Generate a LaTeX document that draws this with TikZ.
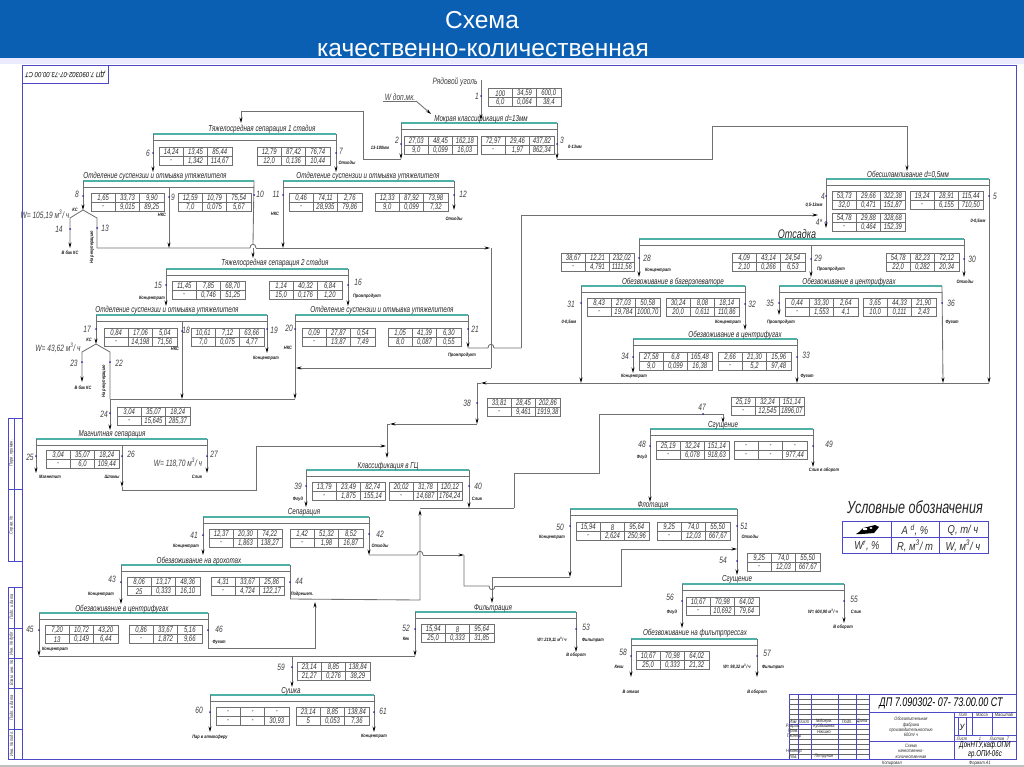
\documentclass[tikz,border=0pt]{standalone}
\usepackage{fontspec}
\setmainfont{Liberation Sans}
\newfontfamily\gost[FakeStretch=0.82]{Liberation Sans}
\newfontfamily\gostn[FakeStretch=0.72]{Liberation Sans}
\usetikzlibrary{arrows.meta}
\definecolor{bannerblue}{HTML}{0B5FB3}
\definecolor{frameblue}{HTML}{4C48C8}
\definecolor{linegray}{HTML}{707070}
\definecolor{barteal}{HTML}{4FB0A8}
\definecolor{dotblue}{HTML}{2A2AA8}
\newcount\autonode
\newcommand{\nextnode}{\global\advance\autonode by 1 }
\tikzset{
 ln/.style={draw=linegray,line width=.85pt},
 ar/.style={ln,-{Stealth[length=5.5pt,width=3pt,color=black]}},
 tbar/.style={draw=barteal,line width=1.2pt},
 gbar/.style={draw=linegray,line width=.65pt},
 tbox/.style={draw=linegray,line width=.5pt,anchor=north west,inner sep=0,outer sep=0,minimum width=73pt,minimum height=18pt},
 tgrid/.style={draw=linegray,line width=.5pt},
 num/.style={font=\gostn\itshape\fontsize{8.2}{9}\selectfont,inner sep=0,text=black!80},
 ttl/.style={font=\gostn\itshape\fontsize{8.7}{9}\selectfont,inner sep=0,text=black!85},
 lab/.style={font=\gostn\itshape\fontsize{9.2}{10}\selectfont,inner sep=0,text=black!75},
 sml/.style={font=\gost\bfseries\itshape\fontsize{4.8}{5}\selectfont,inner sep=0,text=black!90},
 frm/.style={draw=frameblue,line width=.8pt},
 stamp/.style={font=\gost\itshape\fontsize{4.8}{5.4}\selectfont,inner sep=0,text=black!85,align=center},
 side/.style={font=\gost\itshape\fontsize{4.8}{5}\selectfont,inner sep=0,rotate=90,text=black!80},
}
\newcommand{\tb}[9]{%
 \node[tbox] (#1) at (#2,#3) {};
 \draw[tgrid] (#1.west) -- (#1.east);
 \draw[tgrid] ({#2+24.3},#3) -- ({#2+24.3},{#3+18});
 \draw[tgrid] ({#2+48.7},#3) -- ({#2+48.7},{#3+18});
 \node[num] (#1a) at ({#2+12.2},{#3+5.2}) {#4};
 \node[num] (#1b) at ({#2+36.5},{#3+5.2}) {#5};
 \node[num] (#1c) at ({#2+60.8},{#3+5.2}) {#6};
 \node[num] (#1d) at ({#2+12.2},{#3+14.2}) {#7};
 \node[num] (#1e) at ({#2+36.5},{#3+14.2}) {#8};
 \node[num] (#1f) at ({#2+60.8},{#3+14.2}) {#9};
}
\newcommand{\blk}[7]{%
 \coordinate (#1l) at (#2,#4);
 \coordinate (#1r) at (#3,#4);
 \draw[gbar] (#2,{#4+6}) -- (#3,{#4+6});
 \draw[tbar] (#1l) -- (#1r);
 \node[ttl] (#1t) at (#6,#7) {#5};
}
\newcommand{\lb}[3]{\nextnode\node[lab] (lb\the\autonode) at (#1,#2) {#3};}
\newcommand{\sm}[3]{\nextnode\node[sml] (sm\the\autonode) at (#1,#2) {#3};}
\newcommand{\dt}[2]{\fill[dotblue] (#1,#2) circle (1);}
\newcommand{\cp}[3]{\coordinate (#1) at (#2,#3);}
\begin{document}
\begin{tikzpicture}[x=1pt,y=-1pt]
\useasboundingbox (0,0) rectangle (1024,767);
\fill[white] (0,0) rectangle (1024,767);
\fill[bannerblue] (0,0) rectangle (1024,58);
\fill[blue!8] (0,58) rectangle (1024,64);
\fill[black!25] (0,765) rectangle (1024,767);
\node[text=white,font=\fontsize{24.5}{26}\selectfont,inner sep=0] (bt1) at (482,20) {Схема};
\node[text=white,font=\fontsize{24.5}{26}\selectfont,inner sep=0] (bt2) at (483,50) {качественно-количественная};
% frame
\draw[frm] (22.5,65) rectangle (1016,759);
\draw[frm] (22.5,65) rectangle (108,83);
\node[font=\gost\itshape\fontsize{7.4}{8}\selectfont,rotate=180,inner sep=0] (stamp0) at (65,74.5) {ДП 7.090302-07-73.00.00 СТ};
\draw[frm] (8,418) rectangle (22.5,561);
\draw[frm] (8,489) -- (22.5,489);
\draw[frm] (14,418) -- (14,561);
\draw[frm] (8,587) rectangle (22.5,759);
\foreach \yy in {628,658,688,729} \draw[frm] (8,\yy) -- (22.5,\yy);
\draw[frm] (14,587) -- (14,759);
\node[side] (s1) at (11.5,453) {Перв. примен.};
\node[side] (s2) at (11.5,525) {Справ. №};
\node[side] (s3) at (11.5,607) {Подп. и дата};
\node[side] (s4) at (11.5,643) {Инв. № дубл.};
\node[side] (s5) at (11.5,673) {Взам. инв. №};
\node[side] (s6) at (11.5,708) {Подп. и дата};
\node[side] (s7) at (11.5,744) {Инв. № подл.};
% blocks
\blk{mk}{401}{557}{123}{Мокрая классификация d=13мм}{481}{119}
\blk{tsa}{153}{336}{134}{Тяжелосредная сепарация 1 стадия}{262}{129}
\blk{oda}{83}{254}{181}{Отделение суспензии и отмывка утяжелителя}{155}{176}
\blk{odb}{283}{454}{181}{Отделение суспензии и отмывка утяжелителя}{368}{176}
\blk{tsb}{166}{348}{269}{Тяжелосредная сепарация 2 стадия}{275}{263}
\blk{odc}{96}{267}{315}{Отделение суспензии и отмывка утяжелителя}{167}{310}
\blk{odd}{295}{468}{315}{Отделение суспензии и отмывка утяжелителя}{382}{310}
\blk{mg}{36}{207}{439}{Магнитная сепарация}{112}{434}
\blk{ob}{826}{989}{179}{Обесшламливание d=0,5мм}{908}{175}
\blk{ot}{639}{964}{239}{\fontsize{12.5}{13}\selectfont Отсадка}{797}{234}
\blk{bag}{581}{745}{286}{Обезвоживание в багерэлеваторе}{673}{282}
\blk{cf}{779}{942}{286}{Обезвоживание в центрифугах}{849}{282}
\blk{cg}{633}{797}{339}{Обезвоживание в центрифугах}{735}{335}
\blk{sga}{650}{813}{429}{Сгущение}{723}{425}
\blk{gc}{306}{469}{470}{Классификация в ГЦ}{388}{466}
\blk{sp}{203}{369}{517}{Сепарация}{304}{512}
\blk{gr}{121}{290}{565}{Обезвоживание на грохотах}{199}{561}
\blk{ch}{39}{208}{613}{Обезвоживание в центрифугах}{122}{609}
\blk{fl}{570}{737}{509}{Флотация}{653}{505}
\blk{sgb}{682}{844}{584}{Сгущение}{737}{579}
\blk{fp}{631}{757}{639}{Обезвоживание на фильтрпрессах}{695}{633}
\blk{fi}{415}{576}{612}{Фильтрация}{493}{608}
\blk{su}{210}{374}{695}{Сушка}{291}{691}
% connectors: top
\cp{raw}{481}{80}\cp{rawe}{481}{120}
\draw[ar] (raw) -- (rawe);
\cp{wu}{383}{101}\cp{wm}{416}{101}\cp{we}{431}{114}
\draw[ln,line width=.5pt] (wu) -- (wm);
\draw[ar] (wm) -- (we);
\cp{mka}{401}{159}\cp{mkb}{363}{159}\cp{mkc}{363}{111}\cp{mkd}{241}{111}\cp{mke}{241}{123}
\draw[ar] (mkl) -- (mka);
\draw[ar] (mka) -- (mkb) -- (mkc) -- (mkd) -- (mke);
\cp{mra}{557}{159}\cp{mrb}{712}{159}\cp{mrc}{712}{126}\cp{mrd}{907}{126}\cp{mre}{907}{171}
\draw[ar] (mkr) -- (mra);
\draw[ar] (mra) -- (mrb) -- (mrc) -- (mrd) -- (mre);
% ts1
\cp{a1}{153}{172}\cp{a2}{336}{172}
\draw[ar] (tsal) -- (a1);\draw[ar] (tsar) -- (a2);
% od1
\cp{b0}{83}{210}\cp{b1}{70}{218}\cp{b2}{70}{248}\cp{b3}{97}{218}\cp{b4}{97}{248}
\draw[ar] (odal) -- (b0);
\draw[ar] (b0) -- (b1) -- (b2);
\draw[ln] (b0) -- (b3) -- (b4);
\cp{b5}{250}{248}\cp{b6}{256}{248}\cp{b7}{490}{248}\cp{b8}{491}{368}\cp{b9}{296}{368}\cp{b10}{491}{248}
\draw[ln] (b4) -- (b5) .. controls +(0,-5) and +(0,-5) .. (b6);
\draw[ar] (b6) -- (b7);
\cp{c0}{169}{187}\cp{c1}{169}{248}\draw[ar] (c0) -- (c1);
\cp{c2}{253}{244}\draw[ln] (odar) -- (c2);
\cp{c3}{253}{248}\cp{c4}{253}{258}\draw[ar] (c3) -- (c4);
\cp{c5}{283}{248}\draw[ar] (odbl) -- (c5);
\cp{c6}{454}{210}\draw[ar] (odbr) -- (c6);
\draw[ln] (b10) -- (b8);
\draw[ar] (b8) -- (b9);
% ts2
\cp{d1}{166}{306}\cp{d2}{348}{306}
\draw[ar] (tsbl) -- (d1);\draw[ar] (tsbr) -- (d2);
% od3
\cp{e0}{96}{344}\cp{e1}{82}{352}\cp{e2}{82}{382}\cp{e3}{110}{352}\cp{e4}{110}{399}\cp{e5}{110}{430}
\draw[ar] (odcl) -- (e0);
\draw[ar] (e0) -- (e1) -- (e2);
\draw[ln] (e0) -- (e3) -- (e4);
\draw[ar] (e4) -- (e5);
\cp{e6}{295}{399}\draw[ln] (e4) -- (e6);
\draw[ar] (oddl) -- (e6);
\cp{e7}{182}{321}\cp{e8}{182}{399}\draw[ar] (e7) -- (e8);
\cp{e9}{267}{353}\draw[ar] (odcr) -- (e9);
% od4 -> otsadka
\cp{f1}{468}{348}\cp{f2}{488}{348}\cp{f3}{494}{348}\cp{f4}{521}{348}\cp{f5}{521}{215}\cp{f6}{818}{215}
\draw[ar] (oddr) -- (f1);
\draw[ln] (f1) -- (f2) .. controls +(0,-5) and +(0,-5) .. (f3) -- (f4);
\draw[ar] (f4) -- (f5) -- (f6);
% magnetic
\cp{g1}{36}{473}\cp{g2}{207}{473}\cp{g3}{122}{445}\cp{g4}{122}{487}\cp{g5}{122}{490}\cp{g6}{256}{490}\cp{g7}{256}{446}\cp{g8}{386}{446}
\draw[ar] (mgl) -- (g1);\draw[ar] (mgr) -- (g2);\draw[ar] (g3) -- (g4);
\draw[ln] (g4) -- (g5);
\draw[ar] (g5) -- (g6) -- (g7) -- (g8);
% ob
\cp{h1}{826}{228}\cp{h2}{989}{383}
\draw[ar] (obl) -- (h1);\draw[ar] (obr) -- (h2);
% otsadka
\cp{i1}{639}{277}\cp{i2}{964}{277}\cp{i3}{811}{245}\cp{i4}{811}{277}
\draw[ar] (otl) -- (i1);\draw[ar] (otr) -- (i2);\draw[ar] (i3) -- (i4);
% dewatering
\cp{j1}{581}{383}\cp{j2}{745}{330}\cp{j3}{779}{315}\cp{j4}{943}{383}\cp{j5}{633}{373}\cp{j6}{797}{383}
\draw[ar] (bagl) -- (j1);\draw[ar] (bagr) -- (j2);\draw[ar] (cfl) -- (j3);
\draw[ar] (cfr) -- (j4);\draw[ar] (cgl) -- (j5);\draw[ar] (cgr) -- (j6);
\cp{k1}{989}{383}\cp{k2}{481}{383}\cp{k3}{477}{383}\cp{k4}{477}{424}\cp{k5}{390}{424}\cp{k6}{387}{424}\cp{k7}{387}{458}
\draw[ar] (k1) -- (k2);\draw[ln] (k2) -- (k3);
\draw[ar] (k3) -- (k4);
\draw[ar] (k4) -- (k5);\draw[ln] (k5) -- (k6);
\draw[ar] (k6) -- (k7);
% classifier
\cp{l1}{306}{507}\cp{l2}{469}{508}
\draw[ar] (gcl) -- (l1);\draw[ar] (gcr) -- (l2);
% thickening 1
\cp{m1}{723}{414}\cp{m2}{599}{414}\cp{m3}{599}{473}\cp{m4}{514}{473}\cp{m5}{514}{508}\cp{m6}{420}{508}\cp{m7}{723}{423}
\draw[ln] (m5) -- (m6);
\draw[ln] (m5) -- (m4) -- (m3) -- (m2) -- (m1);
\draw[ar] (m1) -- (m7);
\cp{m8}{813}{467}\cp{m9}{650}{502}
\draw[ar] (sgar) -- (m8);\draw[ar] (sgal) -- (m9);
% separation
\cp{n1}{203}{555}\cp{n2}{369}{555}\cp{n3}{417}{555}\cp{n4}{423}{555}\cp{n5}{464}{555}\cp{n6}{464}{586}\cp{n7}{489}{586}\cp{n8}{495}{586}\cp{n9}{621}{586}\cp{n10}{621}{549}\cp{n11}{737}{549}
\draw[ar] (spl) -- (n1);\draw[ar] (spr) -- (n2);
\draw[ln] (n2) -- (n3) .. controls +(0,-5) and +(0,-5) .. (n4);
\draw[ar] (n4) -- (n5);
\draw[ln] (n5) -- (n6) -- (n7) .. controls +(0,5) and +(0,5) .. (n8);
\draw[ar] (n8) -- (n9) -- (n10) -- (n11);
% flotation
\cp{o1}{570}{577}\cp{o2}{492}{577}\cp{o3}{492}{603}\cp{o4}{737}{575}
\draw[ar] (fll) -- (o1);\draw[ln] (o1) -- (o2);\draw[ar] (o2) -- (o3);
\draw[ar] (flr) -- (o4);
% grokhot etc
\cp{p1}{121}{604}\cp{p2}{290}{599}\cp{p3}{420}{600}\cp{p4}{420}{510}
\draw[ar] (grl) -- (p1);\draw[ln] (grr) -- (p2);
\draw[ar] (p2) -- (p3) -- (p4);
\cp{q1}{39}{656}\cp{q2}{208}{648}\cp{q3}{315}{648}\cp{q4}{315}{602}
\draw[ar] (chl) -- (q1);\draw[ln] (chr) -- (q2);
\draw[ar] (q2) -- (q3) -- (q4);
% filtration
\cp{r1}{415}{656}\cp{r2}{292}{656}\cp{r3}{292}{687}\cp{r4}{576}{652}
\draw[ar] (fil) -- (r1);\draw[ln] (r1) -- (r2);\draw[ln] (q1) -- (r2);
\draw[ar] (r2) -- (r3);\draw[ar] (fir) -- (r4);
% thick 2
\cp{s1a}{844}{623}\cp{s2a}{682}{628}\cp{s3a}{631}{677}\cp{s4a}{757}{677}
\draw[ar] (sgbr) -- (s1a);\draw[ar] (sgbl) -- (s2a);
\draw[ar] (fpl) -- (s3a);\draw[ar] (fpr) -- (s4a);
% dryer
\cp{u1}{210}{732}\cp{u2}{374}{732}
\draw[ar] (sul) -- (u1);\draw[ar] (sur) -- (u2);
% tables
\tb{t1}{488}{88}{100}{34,59}{600,0}{6,0}{0,064}{38,4}
\tb{t2}{404}{136}{27,03}{48,45}{162,18}{9,0}{0,099}{16,03}
\tb{t3}{481}{136}{72,97}{29,46}{437,82}{-}{1,97}{862,34}
\tb{t4}{832}{191}{53,73}{29,66}{322,38}{32,0}{0,471}{151,87}
\tb{t5}{910}{191}{19,24}{28,91}{115,44}{-}{6,155}{710,50}
\tb{tq}{832}{213}{54,78}{29,88}{328,68}{-}{0,464}{152,39}
\tb{t6}{159}{147}{14,24}{13,45}{85,44}{-}{1,342}{114,67}
\tb{t7}{257}{147}{12,79}{87,42}{76,74}{12,0}{0,136}{10,44}
\tb{t8}{91}{193}{1,65}{33,73}{9,90}{-}{9,015}{89,25}
\tb{t9}{178}{193}{12,59}{10,79}{75,54}{7,0}{0,075}{5,67}
\tb{t11}{289}{193}{0,46}{74,11}{2,76}{-}{28,935}{79,86}
\tb{t12}{375}{193}{12,33}{87,92}{73,98}{9,0}{0,099}{7,32}
\tb{t15}{172}{281}{11,45}{7,85}{68,70}{-}{0,746}{51,25}
\tb{t16}{269}{281}{1,14}{40,32}{6,84}{15,0}{0,176}{1,20}
\tb{t17}{104}{328}{0,84}{17,06}{5,04}{-}{14,198}{71,56}
\tb{t18}{191}{328}{10,61}{7,12}{63,66}{7,0}{0,075}{4,77}
\tb{t20}{302}{328}{0,09}{27,87}{0,54}{-}{13,87}{7,49}
\tb{t21}{388}{328}{1,05}{41,39}{6,30}{8,0}{0,087}{0,55}
\tb{t24}{117}{407}{3,04}{35,07}{18,24}{-}{15,645}{285,37}
\tb{t25}{46}{450}{3,04}{35,07}{18,24}{-}{6,0}{109,44}
\tb{t28}{561}{253}{38,67}{12,21}{232,02}{-}{4,791}{1111,56}
\tb{t29}{732}{253}{4,09}{43,14}{24,54}{2,10}{0,266}{6,53}
\tb{t30}{886}{253}{54,78}{82,23}{72,12}{22,0}{0,282}{20,34}
\tb{t31}{587}{298}{8,43}{27,03}{50,58}{-}{19,784}{1000,70}
\tb{t32}{666}{298}{30,24}{8,08}{18,14}{20,0}{0,611}{110,86}
\tb{t35}{785}{298}{0,44}{33,30}{2,64}{-}{1,553}{4,1}
\tb{t36}{863}{298}{3,65}{44,33}{21,90}{10,0}{0,111}{2,43}
\tb{t34}{639}{352}{27,58}{6,8}{165,48}{9,0}{0,099}{16,38}
\tb{t33}{718}{352}{2,66}{21,30}{15,96}{-}{5,2}{97,48}
\tb{t38}{487}{398}{33,81}{28,45}{202,86}{-}{9,461}{1919,38}
\tb{t47}{731}{397}{25,19}{32,24}{151,14}{-}{12,545}{1896,07}
\tb{t48}{656}{441}{25,19}{32,24}{151,14}{-}{6,078}{918,63}
\tb{t49}{734}{441}{-}{-}{-}{-}{-}{977,44}
\tb{t39}{312}{482}{13,79}{23,49}{82,74}{-}{1,875}{155,14}
\tb{t40}{389}{482}{20,02}{31,78}{120,12}{-}{14,687}{1764,24}
\tb{t41}{209}{529}{12,37}{20,30}{74,22}{-}{1,863}{138,27}
\tb{t42}{290}{529}{1,42}{51,32}{8,52}{-}{1,98}{16,87}
\tb{t43}{127}{577}{8,06}{13,17}{48,36}{25}{0,333}{16,10}
\tb{t44}{211}{577}{4,31}{33,67}{25,86}{-}{4,724}{122,17}
\tb{t45}{45}{625}{7,20}{10,72}{43,20}{13}{0,149}{6,44}
\tb{t46}{129}{625}{0,86}{33,67}{5,16}{-}{1,872}{9,66}
\tb{t50}{576}{522}{15,94}{8}{95,64}{-}{2,624}{250,96}
\tb{t51}{657}{522}{9,25}{74,0}{55,50}{-}{12,03}{667,67}
\tb{t54}{747}{553}{9,25}{74,0}{55,50}{-}{12,03}{667,67}
\tb{t56}{686}{597}{10,67}{70,98}{64,02}{-}{10,692}{79,64}
\tb{t52}{421}{624}{15,94}{8}{95,64}{25,0}{0,333}{31,85}
\tb{t58}{636}{651}{10,67}{70,98}{64,02}{25,0}{0,333}{21,32}
\tb{t59}{297}{662}{23,14}{8,85}{138,84}{21,27}{0,276}{38,29}
\tb{t60}{216}{707}{-}{-}{-}{-}{-}{30,93}
\tb{t61}{296}{707}{23,14}{8,85}{138,84}{5}{0,053}{7,36}
% dots
\dt{481}{96}\dt{401}{144}\dt{557}{144}\dt{153}{153}\dt{336}{153}\dt{83}{196}\dt{169}{197}\dt{254}{195}\dt{283}{195}\dt{454}{195}
\dt{70}{229}\dt{97}{228}\dt{166}{285}\dt{348}{285}\dt{96}{329}\dt{182}{331}\dt{267}{329}\dt{295}{329}\dt{468}{329}
\dt{82}{362}\dt{110}{362}\dt{110}{413}\dt{36}{456}\dt{122}{456}\dt{207}{456}\dt{826}{196}\dt{989}{196}\dt{826}{222}
\dt{639}{258}\dt{811}{259}\dt{964}{259}\dt{581}{303}\dt{745}{304}\dt{779}{303}\dt{942}{303}\dt{633}{357}\dt{797}{357}
\dt{477}{403}\dt{703}{414}\dt{650}{446}\dt{813}{446}\dt{306}{486}\dt{469}{486}\dt{203}{535}\dt{369}{534}\dt{121}{582}\dt{290}{582}
\dt{39}{630}\dt{208}{630}\dt{570}{526}\dt{737}{526}\dt{737}{561}\dt{682}{601}\dt{844}{601}\dt{631}{656}\dt{757}{656}\dt{415}{629}\dt{576}{629}
\dt{292}{667}\dt{210}{712}\dt{374}{712}
% number labels
\lb{477}{96}{1}\lb{397}{140}{2}\lb{562}{140}{3}\lb{823}{196}{4}\lb{995}{196}{5}\lb{819}{222}{4*}
\lb{148}{153}{6}\lb{341}{151}{7}\lb{77}{194}{8}\lb{173}{197}{9}\lb{260}{194}{10}\lb{276}{194}{11}\lb{463}{194}{12}
\lb{105}{228}{13}\lb{59}{229}{14}\lb{158}{285}{15}\lb{358}{282}{16}\lb{87}{329}{17}\lb{186}{330}{18}\lb{274}{330}{19}
\lb{289}{328}{20}\lb{475}{329}{21}\lb{119}{363}{22}\lb{74}{363}{23}\lb{104}{414}{24}\lb{30}{457}{25}\lb{131}{454}{26}\lb{214}{454}{27}
\lb{647}{258}{28}\lb{818}{258}{29}\lb{972}{259}{30}\lb{571}{304}{31}\lb{752}{304}{32}\lb{806}{355}{33}\lb{625}{356}{34}\lb{770}{303}{35}\lb{951}{303}{36}
\lb{467}{403}{38}\lb{298}{486}{39}\lb{478}{486}{40}\lb{194}{535}{41}\lb{380}{534}{42}\lb{112}{579}{43}\lb{299}{581}{44}\lb{30}{629}{45}\lb{219}{629}{46}
\lb{702}{407}{47}\lb{642}{444}{48}\lb{829}{444}{49}\lb{560}{527}{50}\lb{744}{526}{51}\lb{406}{628}{52}\lb{586}{627}{53}\lb{723}{560}{54}\lb{854}{599}{55}\lb{670}{597}{56}\lb{767}{653}{57}\lb{623}{652}{58}
\lb{281}{667}{59}\lb{199}{710}{60}\lb{383}{711}{61}
% text labels
\lb{455}{82}{Рядовой уголь}\lb{400}{97}{W доп.мк.}
\lb{45}{215}{W= 105,19 м\textsuperscript{3}/ ч}\lb{58}{348}{W= 43,62 м\textsuperscript{3}/ ч}\lb{178}{463}{W= 118,70 м\textsuperscript{3}/ ч}
\sm{380}{148}{13-100мм}\sm{575}{147}{0-13мм}\sm{814}{205}{0,5-13мм}\sm{978}{221}{0-0,5мм}
\sm{347}{163}{Отходы}\sm{454}{219}{Отходы}\sm{75}{210}{КС}\sm{162}{215}{НКС}\sm{275}{214}{НКС}\sm{70}{253}{В бак КС}
\node[sml,rotate=90] (rk1) at (92,247) {На рекуперацию};
\node[sml,rotate=90] (rk2) at (104,381) {На рекуперацию};
\sm{152}{298}{Концентрат}\sm{367}{296}{Промпродукт}\sm{89}{340}{КС}\sm{175}{349}{НКС}\sm{288}{348}{НКС}\sm{266}{358}{Концентрат}\sm{462}{355}{Промпродукт}\sm{83}{388}{В бак КС}
\sm{50}{477}{Магнетит}\sm{112}{477}{Шламы}\sm{197}{477}{Слив}
\sm{658}{270}{Концентрат}\sm{831}{269}{Промпродукт}\sm{965}{282}{Отходы}\sm{569}{322}{0-0,5мм}\sm{728}{322}{Концентрат}\sm{781}{322}{Промпродукт}\sm{952}{322}{Фугат}
\sm{634}{376}{Концентрат}\sm{807}{376}{Фугат}
\sm{642}{457}{Флуд}\sm{824}{470}{Слив в оборот}\sm{298}{499}{Флуд}\sm{477}{499}{Слив}
\sm{186}{546}{Концентрат}\sm{380}{546}{Отходы}\sm{552}{537}{Концентрат}\sm{750}{537}{Отходы}
\sm{101}{594}{Концентрат}\sm{302}{594}{Подрешет.}\sm{55}{649}{Концентрат}\sm{219}{642}{Фугат}
\sm{406}{639}{Кек}\sm{552}{640}{W= 219,11 м\textsuperscript{3}/ ч}\sm{593}{640}{Фильтрат}\sm{576}{655}{В оборот}
\sm{672}{612}{Флуд}\sm{823}{612}{W= 604,90 м\textsuperscript{3}/ ч}\sm{856}{612}{Слив}\sm{843}{627}{В оборот}
\sm{619}{667}{Кеки}\sm{737}{667}{W= 98,32 м\textsuperscript{3}/ ч}\sm{773}{667}{Фильтрат}\sm{631}{692}{В отвал}\sm{757}{692}{В оборот}
\sm{210}{737}{Пар в атмосферу}\sm{374}{736}{Концентрат}
% legend
\node[font=\gostn\itshape\fontsize{17.5}{19}\selectfont,inner sep=0,text=black!85] (lgt) at (915,507) {Условные обозначения};
\draw[frm] (842,521) rectangle (988,553);
\draw[frm] (842,537) -- (988,537);
\draw[frm] (891,521) -- (891,553);
\draw[frm] (939,521) -- (939,553);
\fill[black] (863,528) -- (875,525) -- (879,527) -- (874,533) -- (862,534) -- (856,534) -- (859,532) -- cycle;
\fill[white] (865,529) ellipse (2.4 and 1.2);
\fill[white] (871,528) ellipse (1.6 and 1);
\tikzset{leg/.style={font=\gost\itshape\fontsize{11.5}{12}\selectfont,inner sep=0,text=black!80}}
\node[leg] (lg1) at (915,530) {A \textsuperscript{d}, \%};
\node[leg] (lg2) at (963,530) {Q, т/ ч};
\node[leg] (lg3) at (867,546) {W\textsuperscript{r}, \%};
\node[leg] (lg4) at (915,546) {R, м\textsuperscript{3}/ т};
\node[leg] (lg5) at (963,546) {W, м\textsuperscript{3}/ ч};
% title block
\draw[frm] (789,694) rectangle (1016,759);
\foreach \yy in {699,704,709,714,719,724,729,734,739,744,749,754} \draw[frm,line width=.4pt,draw=black!60] (789,\yy) -- (869,\yy);
\foreach \xx in {798,811,838,856,869} \draw[frm] (\xx,694) -- (\xx,759);
\draw[frm] (789,724) -- (869,724);
\draw[frm] (869,712) -- (1016,712);
\draw[frm] (869,741) -- (1016,741);
\draw[frm] (954,712) -- (954,759);
\draw[frm] (972,712) -- (972,735);
\draw[frm] (992,712) -- (992,735);
\draw[frm] (954,717) -- (1016,717);
\draw[frm] (954,735) -- (1016,735);
\draw[frm] (958,717) -- (958,735);
\draw[frm] (966,717) -- (966,735);
\node[font=\gostn\itshape\fontsize{12.5}{13}\selectfont,inner sep=0] (sbt) at (941,703) {ДП 7.090302- 07- 73.00.00 СТ};
\node[stamp] (sb1) at (911,727) {Обогатительная\\фабрика\\производительностью\\600т/ ч};
\node[stamp] (sb2) at (911,751) {Схема\\качественно-\\количественная};
\node[font=\gostn\itshape\fontsize{8.5}{8.5}\selectfont,inner sep=0,align=center] (sb3) at (985,750) {ДонНТУ,каф.ОПИ\\гр.ОПИ-06с};
\node[stamp] (sb4) at (963,714.5) {Лит};
\node[stamp] (sb5) at (982,714.5) {Масса};
\node[stamp] (sb6) at (1004,714.5) {Масштаб};
\node[font=\gost\itshape\fontsize{9}{9}\selectfont,inner sep=0] (sb7) at (962,727) {У};
\node[stamp] (sb8) at (962,738.5) {Лист};
\node[stamp] (sb9) at (980,738.5) {1};
\node[stamp] (sb10) at (997,738.5) {Листов};
\node[stamp] (sb11) at (1008,738.5) {7};
\node[stamp] (sb12) at (892,763) {Копировал};
\node[stamp] (sb13) at (980,763) {Формат  А1};
\node[stamp] (sb14) at (793,721.5) {Изм};
\node[stamp] (sb15) at (804,721.5) {Лист};
\node[stamp] (sb16) at (824,721.5) {№докум.};
\node[stamp] (sb17) at (847,721.5) {Подп.};
\node[stamp] (sb18) at (862,721.5) {Дата};
\node[stamp] (sb19) at (793,726.5) {Разраб.};
\node[stamp] (sb20) at (824,726.5) {Куйбышева};
\node[stamp] (sb21) at (793,731.5) {Пров.};
\node[stamp] (sb22) at (824,731.5) {Нікішко};
\node[stamp] (sb23) at (794,736.5) {Т.контр};
\node[stamp] (sb24) at (794,751.5) {Н.контр};
\node[stamp] (sb25) at (793,756.5) {Утв.};
\node[stamp] (sb26) at (824,756.5) {Петрунин};
\end{tikzpicture}
\end{document}
